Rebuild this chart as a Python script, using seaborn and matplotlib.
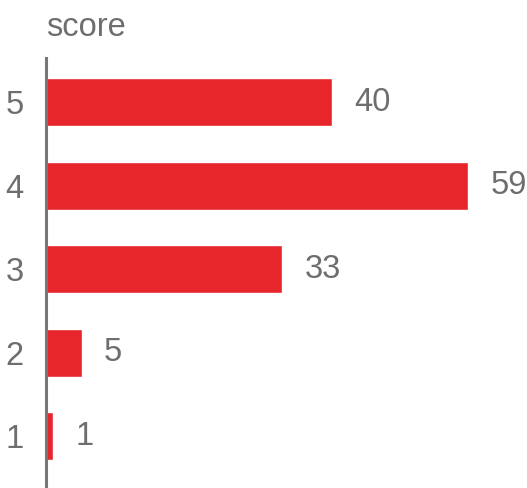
import pandas as pd
import matplotlib
matplotlib.use("Agg")
import matplotlib.pyplot as plt
import seaborn as sns

# DATA
scores = ["5", "4", "3", "2", "1"]
counts = [40, 59, 33, 5, 1]

df = pd.DataFrame({"score": scores, "count": counts})

sns.set_style("white")
plt.rcParams["font.family"] = ["Liberation Sans", "DejaVu Sans"]

grey = "#6e6e6e"
red = "#E6262A"

fig = plt.figure(figsize=(5.27, 4.88), dpi=100)
ax = fig.add_axes([46 / 527, 0, 1 - 46 / 527, 430 / 488])

sns.barplot(data=df, x="count", y="score", order=scores, color=red,
            width=0.575, saturation=1, ax=ax)

ax.set_xlim(0, (527 - 47) / 7.14)
ax.set_ylim(4.62, -0.53)

for s in ["top", "right", "bottom"]:
    ax.spines[s].set_visible(False)
ax.spines["left"].set_color("#777777")
ax.spines["left"].set_linewidth(2.2)

ax.set_xticks([])
ax.set_xlabel("")
ax.set_ylabel("")
ax.tick_params(axis="y", length=0, pad=16, labelsize=23.5, labelcolor=grey)

ax.bar_label(ax.containers[0], padding=16, fontsize=23.5, color=grey)

ax.annotate("score", xy=(0, 1), xycoords="axes fraction", xytext=(0, 16),
            textcoords="offset points", ha="left", va="baseline",
            fontsize=23.5, color=grey, annotation_clip=False)

fig.savefig("out.png", dpi=100)
